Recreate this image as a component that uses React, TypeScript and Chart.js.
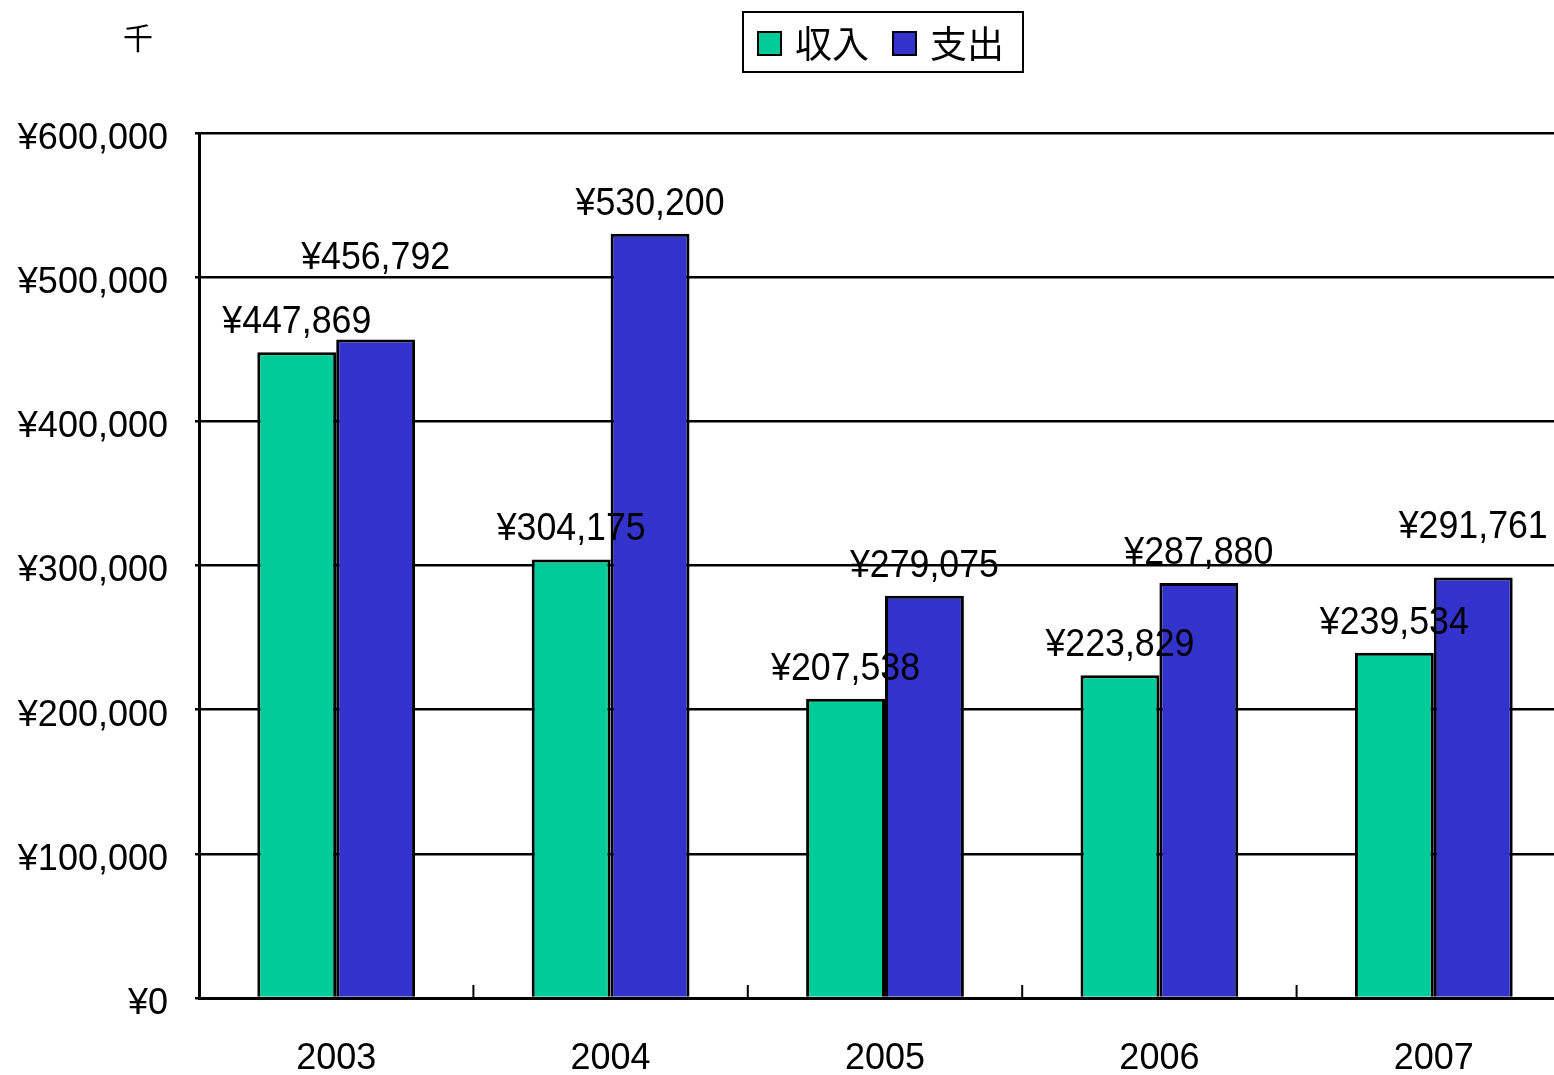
import React, { useEffect, useRef } from "react";
import { Chart, registerables } from "chart.js";

Chart.register(...registerables);

const years = ["2003", "2004", "2005", "2006", "2007"];
const incomeLabel = "収入";
const expenseLabel = "支出";
const income = [447869, 304175, 207538, 223829, 239534];
const expense = [456792, 530200, 279075, 287880, 291761];
const yTicksMax = 600000;
const yTickStep = 100000;
const unitLabel = "千";

const GREEN = "#00CC99";
const BLUE = "#3333CC";
const FONT = "'Liberation Sans', Arial, sans-serif";
const CJK = "'Noto Sans CJK JP', sans-serif";

const yen = (v: number) => "¥" + Math.round(v).toLocaleString("en-US");

const extrasPlugin = {
  id: "extras",
  afterDraw(chart: any) {
    const ctx = chart.ctx as CanvasRenderingContext2D;
    const xs = chart.scales.x;
    const area = chart.chartArea;
    ctx.save();
    // inner category boundary ticks on x axis
    ctx.strokeStyle = "#000";
    ctx.lineWidth = 2;
    for (let i = 0; i < years.length - 1; i++) {
      const bx = (xs.getPixelForTick(i) + xs.getPixelForTick(i + 1)) / 2;
      ctx.beginPath();
      ctx.moveTo(bx, area.bottom);
      ctx.lineTo(bx, area.bottom - 13);
      ctx.stroke();
    }
    // data labels
    const lift: Record<string, number> = { "1-0": 51, "1-4": 20 };
    ctx.font = `38px ${FONT}`;
    ctx.fillStyle = "#000";
    ctx.textAlign = "center";
    ctx.textBaseline = "alphabetic";
    chart.data.datasets.forEach((ds: any, di: number) => {
      const meta = chart.getDatasetMeta(di);
      meta.data.forEach((bar: any, i: number) => {
        const extra = lift[`${di}-${i}`] || 0;
        ctx.save();
        ctx.translate(bar.x, bar.y - 19 - extra);
        ctx.scale(0.94, 1);
        ctx.fillText(yen(ds.data[i]), 0, 0);
        ctx.restore();
      });
    });
    // unit label
    ctx.font = `30px ${CJK}`;
    ctx.textBaseline = "middle";
    ctx.fillText(unitLabel, 138, 38);
    // legend
    ctx.lineWidth = 2;
    ctx.strokeStyle = "#000";
    ctx.fillStyle = "#fff";
    ctx.fillRect(743, 12, 280, 60);
    ctx.strokeRect(743, 12, 280, 60);
    const items = [
      { label: incomeLabel, color: GREEN, x: 758 },
      { label: expenseLabel, color: BLUE, x: 893 },
    ];
    ctx.font = `37px ${CJK}`;
    ctx.textAlign = "left";
    items.forEach((it) => {
      ctx.fillStyle = it.color;
      ctx.fillRect(it.x, 32, 23, 23);
      ctx.strokeRect(it.x, 32, 23, 23);
      ctx.fillStyle = "#000";
      ctx.fillText(it.label, it.x + 37, 44);
    });
    ctx.restore();
  },
};

export default function App() {
  const ref = useRef<HTMLCanvasElement | null>(null);
  useEffect(() => {
    if (!ref.current) return;
    const chart = new Chart(ref.current, {
      type: "bar",
      data: {
        labels: years,
        datasets: [
          {
            label: incomeLabel,
            data: income,
            backgroundColor: GREEN,
            borderColor: "#000",
            borderWidth: 3,
            categoryPercentage: 0.575,
            barPercentage: 1,
          },
          {
            label: expenseLabel,
            data: expense,
            backgroundColor: BLUE,
            borderColor: "#000",
            borderWidth: 3,
            categoryPercentage: 0.575,
            barPercentage: 1,
          },
        ],
      },
      options: {
        responsive: false,
        maintainAspectRatio: false,
        animation: false,
        layout: { padding: { top: 133, left: 0, right: 0, bottom: 0 } },
        plugins: {
          legend: { display: false },
          tooltip: { enabled: false },
          title: { display: false },
        },
        scales: {
          x: {
            grid: { display: false },
            border: { display: true, color: "#000", width: 3 },
            ticks: {
              color: "#000",
              font: { family: FONT, size: 36 },
              padding: 31,
            },
            afterFit: (s: any) => {
              s.height = 77;
            },
          },
          y: {
            min: 0,
            max: yTicksMax,
            grid: { color: "#000", lineWidth: 2.5, tickLength: 4 },
            border: { display: true, color: "#000", width: 3 },
            ticks: {
              stepSize: yTickStep,
              color: "#000",
              font: { family: FONT, size: 36 },
              padding: 27,
              labelOffset: 6,
              callback: (v: any) => yen(Number(v)),
            },
            afterFit: (s: any) => {
              s.width = 199;
            },
          },
        },
      },
      plugins: [extrasPlugin],
    });
    return () => chart.destroy();
  }, []);
  return (
    <div
      style={{
        position: "absolute",
        left: 0,
        top: 0,
        width: 1554,
        height: 1075,
        overflow: "hidden",
        background: "#fff",
      }}
    >
      <canvas ref={ref} width={1571} height={1075} style={{ display: "block" }} />
    </div>
  );
}
